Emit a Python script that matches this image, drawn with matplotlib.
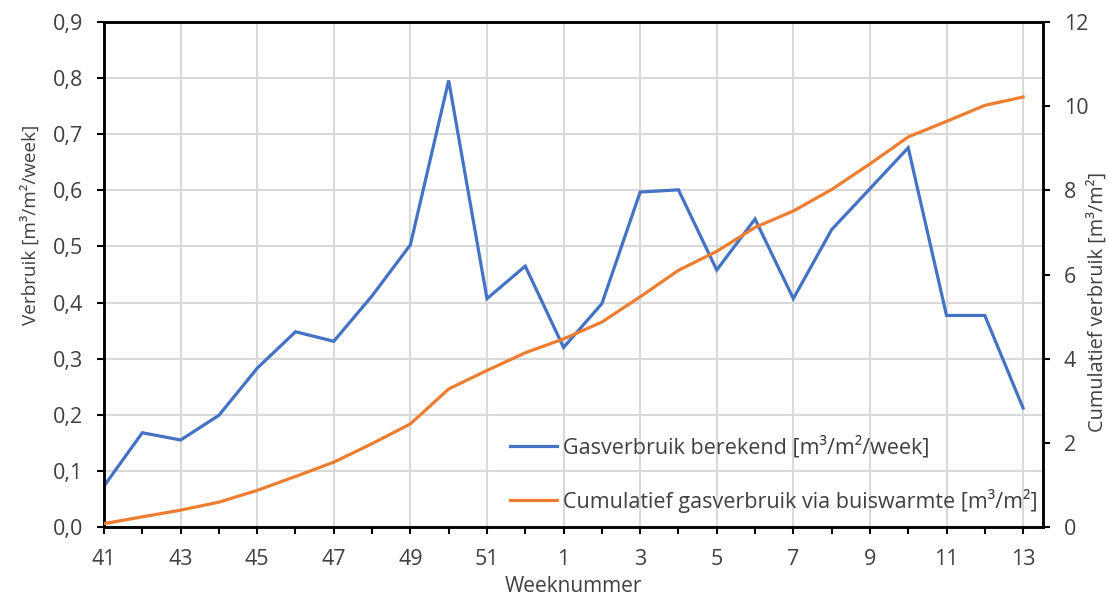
import matplotlib
matplotlib.use("Agg")
import matplotlib.pyplot as plt
from matplotlib.ticker import FuncFormatter, MultipleLocator

# Weeknummers (week 41 t/m 52, daarna 1 t/m 13)
weeks = [41, 42, 43, 44, 45, 46, 47, 48, 49, 50, 51, 52,
         1, 2, 3, 4, 5, 6, 7, 8, 9, 10, 11, 12, 13]

# Berekend gasverbruik per week [m3/m2/week]
gas_week = [0.073, 0.168, 0.155, 0.199, 0.283, 0.348, 0.331, 0.412, 0.503,
            0.796, 0.407, 0.465, 0.320, 0.398, 0.597, 0.601, 0.458, 0.549,
            0.407, 0.530, 0.603, 0.676, 0.377, 0.377, 0.212]

# Cumulatief gasverbruik via buiswarmte [m3/m2]
gas_cum = [0.08, 0.24, 0.40, 0.59, 0.87, 1.20, 1.54, 1.98, 2.45, 3.28, 3.72,
           4.14, 4.47, 4.87, 5.47, 6.10, 6.55, 7.12, 7.51, 8.02, 8.63, 9.27,
           9.64, 10.02, 10.22]

BLUE = "#4472C4"
ORANGE = "#ED7D31"
GRID = "#D9D9D9"
TEXT = "#404040"

plt.rcParams["font.family"] = ["Open Sans", "DejaVu Sans"]
plt.rcParams["font.size"] = 15

fig = plt.figure(figsize=(11.09, 5.97), dpi=100)
ax = fig.add_axes([0.0938, 0.1173, 0.8467, 0.8457])
ax2 = ax.twinx()

x = list(range(len(weeks)))
l1, = ax.plot(x, gas_week, color=BLUE, lw=2.3, solid_joinstyle="miter",
              label="Gasverbruik berekend [m³/m²/week]", zorder=3)
l2, = ax2.plot(x, gas_cum, color=ORANGE, lw=2.3,
               label="Cumulatief gasverbruik via buiswarmte [m³/m²]", zorder=3)

ax.set_xlim(0, len(weeks) - 1 + 0.52)
ax.set_ylim(0, 0.9)
ax2.set_ylim(0, 12)

# x-as: labels om de week, tickstreepjes elke week
ax.set_xticks(x[::2])
ax.set_xticklabels([str(w) for w in weeks[::2]])
ax.set_xticks(x, minor=True)
ax.tick_params(axis="x", which="both", direction="out", length=5, width=1.5,
               pad=11, colors="black", labelcolor=TEXT, labelsize=15.5)

ax.yaxis.set_major_locator(MultipleLocator(0.1))
ax.yaxis.set_major_formatter(FuncFormatter(lambda v, p: f"{v:.1f}".replace(".", ",")))
ax.tick_params(axis="y", direction="out", length=5, width=1.5, pad=10,
               labelcolor=TEXT, labelsize=15.5)
ax2.yaxis.set_major_locator(MultipleLocator(2))
ax2.tick_params(axis="y", direction="out", length=5, width=1.5, pad=10,
                labelcolor=TEXT, labelsize=15.5)

ax.grid(True, which="major", color=GRID, lw=1.5, zorder=0)
ax.set_axisbelow(True)

for a in (ax, ax2):
    for s in a.spines.values():
        s.set_linewidth(1.8)
        s.set_color("black")

ax.set_xlabel("Weeknummer", color=TEXT, fontsize=15)
ax.xaxis.set_label_coords(0.5, -0.117)
ax.xaxis.label.set_va("center")

ax.set_ylabel("Verbruik [m³/m²/week]", color=TEXT, fontsize=13.6)
ax.yaxis.set_label_coords(-0.0788, 0.598)
ax.yaxis.label.set_va("center")

ax2.set_ylabel("Cumulatief verbruik [m³/m²]", color=TEXT, fontsize=14.3)
ax2.yaxis.set_label_coords(1.0586, 0.445)
ax2.yaxis.label.set_va("center")

leg = ax2.legend(handles=[l1, l2], loc="lower left",
                 bbox_to_anchor=(0.432, 0.028), frameon=False,
                 fontsize=15.5, handlelength=2.2, handletextpad=0.28,
                 labelspacing=1.4, borderaxespad=0, borderpad=0)
for t in leg.get_texts():
    t.set_color(TEXT)

fig.savefig("out.png", dpi=100)
